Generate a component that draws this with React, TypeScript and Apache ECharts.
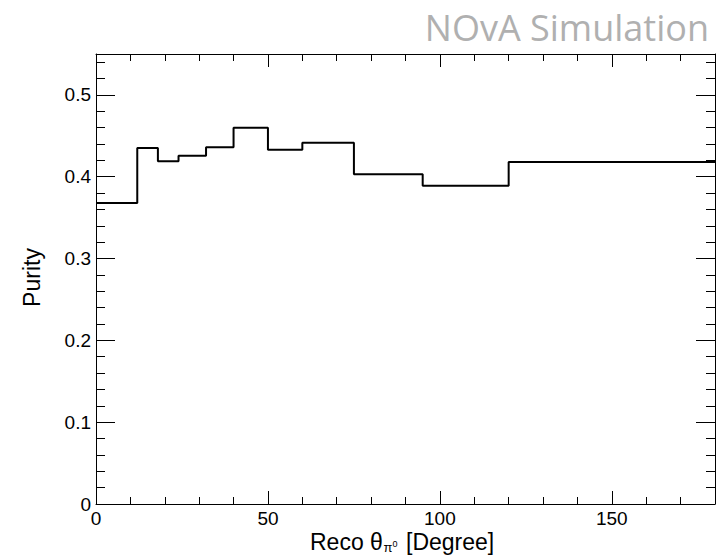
import React, { useEffect, useRef } from "react";
import * as echarts from "echarts";

// Bin edges (degrees) and purity per bin
const binEdges = [0, 12, 18, 24, 32, 40, 50, 60, 75, 95, 120, 180];
const purity = [0.368, 0.435, 0.419, 0.4255, 0.436, 0.46, 0.433, 0.4415, 0.403, 0.389, 0.418];

const xMin = 0;
const xMax = 180;
const yMin = 0;
const yMax = 0.55;

const FONT = "'Liberation Sans', Arial, Helvetica, sans-serif";

function axisPair(pos: string, dim: "x" | "y") {
  const isX = dim === "x";
  const min = isX ? xMin : yMin;
  const max = isX ? xMax : yMax;
  const majorInt = isX ? 50 : 0.1;
  const minorInt = isX ? 10 : 0.02;
  const majorLen = isX ? 13 : 19;
  const minorLen = isX ? 7 : 9;
  const showLabel = pos === "bottom" || pos === "left";
  return [
    {
      type: "value",
      position: pos,
      min,
      max,
      interval: majorInt,
      axisLine: { show: true, onZero: false, lineStyle: { color: "#000", width: 1 } },
      axisTick: { show: true, inside: true, length: majorLen, lineStyle: { color: "#000", width: 1 } },
      axisLabel: {
        show: showLabel,
        margin: 5,
        fontSize: 19,
        color: "#000",
        fontFamily: FONT,
        showMaxLabel: false,
        showMinLabel: true,
      },
      splitLine: { show: false },
      minorTick: { show: false },
    },
    {
      type: "value",
      position: pos,
      min,
      max,
      interval: minorInt,
      axisLine: { show: false, onZero: false },
      axisTick: { show: true, inside: true, length: minorLen, lineStyle: { color: "#000", width: 1 } },
      axisLabel: { show: false },
      splitLine: { show: false },
    },
  ];
}

export default function App() {
  const ref = useRef<HTMLDivElement>(null);

  useEffect(() => {
    document.body.style.margin = "0";
    if (!ref.current) return;
    const chart = echarts.init(ref.current, undefined, { renderer: "svg" });

    const points: [number, number][] = binEdges
      .slice(0, -1)
      .map((e, i) => [e, purity[i]] as [number, number]);
    points.push([binEdges[binEdges.length - 1], purity[purity.length - 1]]);

    chart.setOption({
      animation: false,
      backgroundColor: "#fff",
      grid: { left: 96, right: 1, top: 54, bottom: 54, containLabel: false },
      xAxis: [...axisPair("bottom", "x"), ...axisPair("top", "x")],
      yAxis: [...axisPair("left", "y"), ...axisPair("right", "y")],
      series: [
        {
          type: "line",
          step: "end",
          xAxisIndex: 0,
          yAxisIndex: 0,
          data: points,
          symbol: "none",
          lineStyle: { color: "#000", width: 2 },
        },
      ],
      graphic: [
        {
          type: "text",
          x: 709,
          y: 27,
          style: {
            text: "NOvA Simulation",
            font: "36px 'Open Sans', sans-serif",
            fill: "#b0b0b0",
            align: "right",
            verticalAlign: "middle",
          },
        },
        {
          type: "text",
          x: 31.7,
          y: 277.5,
          rotation: Math.PI / 2,
          style: {
            text: "Purity",
            font: "23px " + FONT,
            fill: "#000",
            align: "center",
            verticalAlign: "middle",
          },
        },
        {
          type: "text",
          x: 310,
          y: 541.5,
          style: { text: "Reco θ", font: "23px " + FONT, fill: "#000", align: "left", verticalAlign: "middle" },
        },
        {
          type: "text",
          x: 383.5,
          y: 547,
          style: { text: "π", font: "13px " + FONT, fill: "#000", align: "left", verticalAlign: "middle" },
        },
        {
          type: "text",
          x: 392.5,
          y: 543.5,
          style: { text: "0", font: "9px " + FONT, fill: "#000", align: "left", verticalAlign: "middle" },
        },
        {
          type: "text",
          x: 406,
          y: 541.5,
          style: { text: "[Degree]", font: "23px " + FONT, fill: "#000", align: "left", verticalAlign: "middle" },
        },
      ],
    });

    return () => chart.dispose();
  }, []);

  return (
    <div
      ref={ref}
      style={{ position: "absolute", left: 0, top: 0, width: 716, height: 558 }}
    />
  );
}
